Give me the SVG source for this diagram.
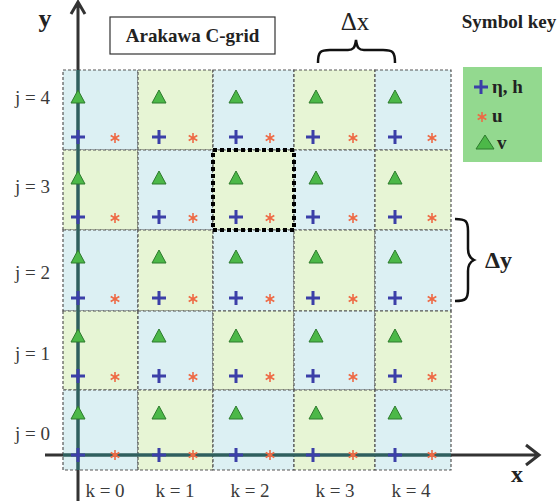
<svg xmlns="http://www.w3.org/2000/svg" width="560" height="501" viewBox="0 0 560 501">
<style>
.cb{fill:#dcf0f3;stroke:#555;stroke-width:1.2;stroke-dasharray:3 2}
.cg{fill:#e7f5d5;stroke:#555;stroke-width:1.2;stroke-dasharray:3 2}
.lbl{font-family:'Liberation Serif','Times New Roman',serif;font-size:19px;fill:#3a3a3a}
.bt{font-family:'Liberation Serif','Times New Roman',serif;font-weight:bold;fill:#222}
.rt{font-family:'Liberation Serif','Times New Roman',serif;fill:#222}
.ax{stroke:#333;stroke-width:3;fill:none;stroke-linecap:butt}
.axi{stroke:#2f5f5e;stroke-width:3.5;fill:none}
</style>
<defs>
<polygon id="tri" points="0,-7 7,6 -7,6" fill="#4cb848" stroke="#2d7a2d" stroke-width="1"/>
<path id="plus" d="M-7,0H7M0,-7V7" stroke="#3b3fa8" stroke-width="3" fill="none"/>
<path id="ast" d="M0,-5V5M-4.3,-2.5L4.3,2.5M-4.3,2.5L4.3,-2.5" stroke="#ee6a45" stroke-width="1.6" fill="none"/>
</defs>

<g id="cells">
<rect class="cb" x="63" y="70" width="75" height="80"/>
<rect class="cg" x="138" y="70" width="75" height="80"/>
<rect class="cb" x="213" y="70" width="81" height="80"/>
<rect class="cg" x="294" y="70" width="81" height="80"/>
<rect class="cb" x="375" y="70" width="76" height="80"/>
<rect class="cg" x="63" y="150" width="75" height="80"/>
<rect class="cb" x="138" y="150" width="75" height="80"/>
<rect class="cg" x="213" y="150" width="81" height="80"/>
<rect class="cb" x="294" y="150" width="81" height="80"/>
<rect class="cg" x="375" y="150" width="76" height="80"/>
<rect class="cb" x="63" y="230" width="75" height="81"/>
<rect class="cg" x="138" y="230" width="75" height="81"/>
<rect class="cb" x="213" y="230" width="81" height="81"/>
<rect class="cg" x="294" y="230" width="81" height="81"/>
<rect class="cb" x="375" y="230" width="76" height="81"/>
<rect class="cg" x="63" y="311" width="75" height="79"/>
<rect class="cb" x="138" y="311" width="75" height="79"/>
<rect class="cg" x="213" y="311" width="81" height="79"/>
<rect class="cb" x="294" y="311" width="81" height="79"/>
<rect class="cg" x="375" y="311" width="76" height="79"/>
<rect class="cb" x="63" y="390" width="75" height="80"/>
<rect class="cg" x="138" y="390" width="75" height="80"/>
<rect class="cb" x="213" y="390" width="81" height="80"/>
<rect class="cg" x="294" y="390" width="81" height="80"/>
<rect class="cb" x="375" y="390" width="76" height="80"/>
</g>

<g id="axes">
<path class="ax" d="M78,501V470M78,70V3M71,14L78,2L85,14"/>
<path class="axi" d="M78,470V70"/>
<path class="ax" d="M45,455H63M451,455H538M526,445L539,455L526,465"/>
<path class="axi" d="M63,455H451"/>
</g>

<g id="highlight">
<rect x="213" y="150" width="81" height="80" fill="none" stroke="#000" stroke-width="4" stroke-dasharray="4 3"/>
</g>

<g id="symbols">
<use href="#tri" x="78" y="97"/><use href="#tri" x="159" y="97"/><use href="#tri" x="236" y="97"/><use href="#tri" x="316" y="97"/><use href="#tri" x="395" y="97"/>
<use href="#tri" x="78" y="178"/><use href="#tri" x="159" y="178"/><use href="#tri" x="236" y="178"/><use href="#tri" x="316" y="178"/><use href="#tri" x="395" y="178"/>
<use href="#tri" x="78" y="257"/><use href="#tri" x="159" y="257"/><use href="#tri" x="236" y="257"/><use href="#tri" x="316" y="257"/><use href="#tri" x="395" y="257"/>
<use href="#tri" x="78" y="336"/><use href="#tri" x="159" y="336"/><use href="#tri" x="236" y="336"/><use href="#tri" x="316" y="336"/><use href="#tri" x="395" y="336"/>
<use href="#tri" x="78" y="413"/><use href="#tri" x="159" y="413"/><use href="#tri" x="236" y="413"/><use href="#tri" x="316" y="413"/><use href="#tri" x="395" y="413"/>

<use href="#plus" x="78" y="137"/><use href="#plus" x="159" y="137"/><use href="#plus" x="236" y="137"/><use href="#plus" x="313" y="137"/><use href="#plus" x="395" y="137"/>
<use href="#plus" x="78" y="217"/><use href="#plus" x="159" y="217"/><use href="#plus" x="236" y="217"/><use href="#plus" x="313" y="217"/><use href="#plus" x="395" y="217"/>
<use href="#plus" x="78" y="298"/><use href="#plus" x="159" y="298"/><use href="#plus" x="236" y="298"/><use href="#plus" x="313" y="298"/><use href="#plus" x="395" y="298"/>
<use href="#plus" x="78" y="376"/><use href="#plus" x="159" y="376"/><use href="#plus" x="236" y="376"/><use href="#plus" x="313" y="376"/><use href="#plus" x="395" y="376"/>
<use href="#plus" x="78" y="455"/><use href="#plus" x="159" y="455"/><use href="#plus" x="236" y="455"/><use href="#plus" x="313" y="455"/><use href="#plus" x="395" y="455"/>

<use href="#ast" x="115" y="138"/><use href="#ast" x="193" y="138"/><use href="#ast" x="270" y="138"/><use href="#ast" x="353" y="138"/><use href="#ast" x="432" y="138"/>
<use href="#ast" x="115" y="218"/><use href="#ast" x="193" y="218"/><use href="#ast" x="270" y="218"/><use href="#ast" x="353" y="218"/><use href="#ast" x="432" y="218"/>
<use href="#ast" x="115" y="299"/><use href="#ast" x="193" y="299"/><use href="#ast" x="270" y="299"/><use href="#ast" x="353" y="299"/><use href="#ast" x="432" y="299"/>
<use href="#ast" x="115" y="377"/><use href="#ast" x="193" y="377"/><use href="#ast" x="270" y="377"/><use href="#ast" x="353" y="377"/><use href="#ast" x="432" y="377"/>
<use href="#ast" x="115" y="455"/><use href="#ast" x="193" y="455"/><use href="#ast" x="270" y="455"/><use href="#ast" x="353" y="455"/><use href="#ast" x="432" y="455"/>
</g>

<g id="row-labels">
<text class="lbl" x="15" y="104">j = 4</text>
<text class="lbl" x="15" y="193">j = 3</text>
<text class="lbl" x="15" y="279">j = 2</text>
<text class="lbl" x="15" y="360">j = 1</text>
<text class="lbl" x="15" y="440">j = 0</text>
</g>
<g id="col-labels">
<text class="lbl" x="105" y="497" text-anchor="middle">k = 0</text>
<text class="lbl" x="175" y="497" text-anchor="middle">k = 1</text>
<text class="lbl" x="250" y="497" text-anchor="middle">k = 2</text>
<text class="lbl" x="335" y="497" text-anchor="middle">k = 3</text>
<text class="lbl" x="411" y="497" text-anchor="middle">k = 4</text>
</g>

<g id="axis-labels">
<text class="bt" x="45" y="27" font-size="26" text-anchor="middle">y</text>
<text class="bt" x="517" y="482" font-size="24" text-anchor="middle">x</text>
</g>

<g id="title">
<rect x="110" y="17" width="165" height="37" fill="#fff" stroke="#333" stroke-width="1.2"/>
<text class="bt" x="192.5" y="42" font-size="19" text-anchor="middle">Arakawa C-grid</text>
</g>

<g id="dx">
<path d="M318,63C318,52 320,50 330,50H348C353,50 355,48 356,40C357,48 359,50 364,50H383C393,50 395,52 395,63" fill="none" stroke="#111" stroke-width="2.5"/>
<text class="rt" x="355" y="30" font-size="25" text-anchor="middle">Δx</text>
</g>

<g id="dy">
<path d="M455,219C466,219 468,221 468,231V249C468,255 470,258 474,260C470,262 468,265 468,271V289C468,299 466,301 455,301" fill="none" stroke="#111" stroke-width="2.5"/>
<text class="bt" x="485" y="268" font-size="24">Δy</text>
</g>

<g id="key">
<text class="bt" x="509" y="28" font-size="19" text-anchor="middle">Symbol key</text>
<rect x="463" y="67" width="79" height="95" fill="#93d98f"/>
<use href="#plus" x="481" y="87"/>
<text class="bt" x="492" y="93" font-size="19">η, h</text>
<use href="#ast" x="482" y="117"/>
<text class="bt" x="492" y="122" font-size="19">u</text>
<polygon points="485,135 494,149 476,149" fill="#4cb848" stroke="#2d7a2d" stroke-width="1"/>
<text class="bt" x="497" y="149" font-size="19">v</text>
</g>
</svg>
